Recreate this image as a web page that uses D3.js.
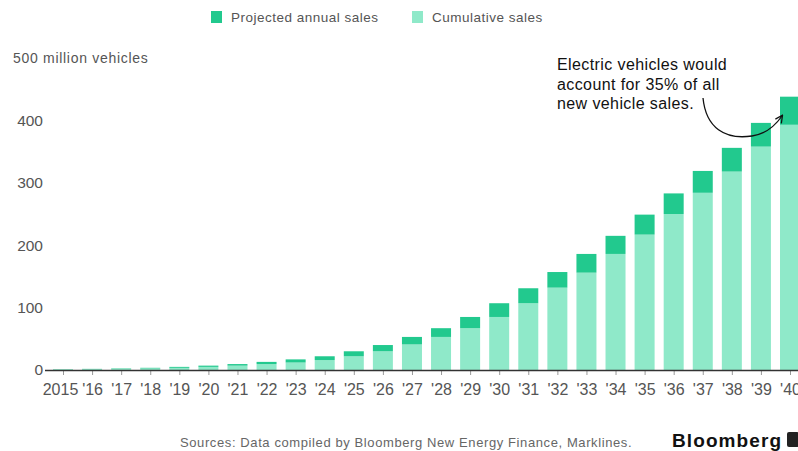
<!DOCTYPE html>
<html>
<head>
<meta charset="utf-8">
<script src="https://cdn.jsdelivr.net/npm/d3@7"></script>
<style>
  body { margin: 0; background: #fff; }
  svg { display: block; font-family: "Liberation Sans", Arial, sans-serif; }
</style>
</head>
<body>
<script>
'use strict';

// years on the x axis
const years = ["2015","'16","'17","'18","'19","'20","'21","'22","'23","'24","'25","'26","'27",
               "'28","'29","'30","'31","'32","'33","'34","'35","'36","'37","'38","'39","'40"];
// cumulative sales (million vehicles), lighter part of each bar
const cumulative = [0.7, 1.2, 1.8, 2.5, 3.5, 5, 7, 9.5, 12, 16, 22, 30, 41,
                    53, 67, 85, 107, 132, 156, 186, 217, 250, 284, 318, 358, 393];
// projected annual sales (million vehicles), darker cap on top
const annual = [0.5, 0.6, 0.7, 1.0, 1.5, 2, 2.5, 3.5, 5, 6, 8, 10, 12,
                14, 18, 22, 24, 25, 30, 29, 32, 33, 35, 38, 38, 45];
const yTicks = [0, 100, 200, 300, 400, 500];

const colors = { annual: "#22c98e", cumulative: "#8fe9c9" };

const width = 798, height = 451;
const svg = d3.select("body").append("svg")
    .attr("width", width)
    .attr("height", height);

let x = d3.scalePoint()
    .domain(years)
    .range([63, 790]);
let barW = 20;

let y = d3.scaleLinear()
    .domain([0, 500])
    .range([370, 58]);

let rows = years.map((yr, i) => ({ year: yr, cum: cumulative[i], ann: annual[i] }));

// y axis labels (no line)
let yAxis = d3.axisLeft(y)
    .tickValues(yTicks)
    .tickSize(0)
    .tickPadding(0)
    .tickFormat(d => d == 500 ? "500 million vehicles" : d);
let yg = svg.append("g")
    .attr("transform", "translate(43,0)")
    .call(yAxis);
yg.select(".domain").remove();
yg.selectAll("text")
    .attr("fill", "#555")
    .attr("font-size", "15.5px")
    .attr("font-family", null);
yg.selectAll(".tick").filter(d => d == 500).select("text")
    .attr("text-anchor", "start")
    .attr("x", -30)
    .attr("font-size", "14px")
    .attr("letter-spacing", "0.7px");

// bars - cumulative part
svg.selectAll(".cum")
    .data(rows)
    .enter()
    .append("rect")
    .attr("class", "cum")
    .attr("x", d => x(d.year) - barW / 2)
    .attr("y", d => y(d.cum))
    .attr("width", barW)
    .attr("height", d => y(0) - y(d.cum))
    .attr("fill", colors.cumulative);

// bars - annual part stacked on top
svg.selectAll(".ann")
    .data(rows)
    .enter()
    .append("rect")
    .attr("class", "ann")
    .attr("x", d => x(d.year) - barW / 2)
    .attr("y", d => y(d.cum + d.ann))
    .attr("width", barW)
    .attr("height", d => y(d.cum) - y(d.cum + d.ann))
    .attr("fill", colors.annual);

// x axis
let xAxis = d3.axisBottom(x)
    .tickSize(5)
    .tickPadding(9);
let xg = svg.append("g")
    .attr("transform", "translate(0,370)")
    .call(xAxis);
xg.select(".domain").remove();
xg.selectAll("line").attr("stroke", "#999");
xg.selectAll("text")
    .attr("fill", "#555")
    .attr("font-size", "16px")
    .attr("font-family", null);
// first label sits a bit left so it does not touch '16
xg.selectAll(".tick").filter(d => d == "2015").select("text").attr("dx", -3);

svg.append("line")
    .attr("x1", 45).attr("x2", 798)
    .attr("y1", 370.5).attr("y2", 370.5)
    .attr("stroke", "#333")
    .attr("stroke-width", 1.5);

// legend
let legend = [
    { label: "Projected annual sales", color: colors.annual, x: 211 },
    { label: "Cumulative sales", color: colors.cumulative, x: 412 }
];
let lg = svg.selectAll(".legend")
    .data(legend)
    .enter()
    .append("g")
    .attr("transform", d => "translate(" + d.x + ",11)");
lg.append("rect")
    .attr("width", 11)
    .attr("height", 12)
    .attr("fill", d => d.color);
lg.append("text")
    .attr("x", 20)
    .attr("y", 11)
    .attr("fill", "#555")
    .attr("font-size", "13.5px")
    .attr("letter-spacing", "0.5px")
    .text(d => d.label);

// annotation
let note = ["Electric vehicles would", "account for 35% of all", "new vehicle sales."];
svg.append("text")
    .attr("x", 557)
    .attr("y", 70)
    .attr("fill", "#111")
    .attr("font-size", "16px")
    .attr("letter-spacing", "0.4px")
    .selectAll("tspan")
    .data(note)
    .enter()
    .append("tspan")
    .attr("x", 557)
    .attr("dy", (d, i) => i == 0 ? 0 : 19.5)
    .text(d => d);

svg.append("defs").append("marker")
    .attr("id", "arrow")
    .attr("viewBox", "0 0 10 10")
    .attr("refX", 8).attr("refY", 5)
    .attr("markerWidth", 7).attr("markerHeight", 7)
    .attr("orient", "auto")
    .append("path")
    .attr("d", "M1,1 L9,5 L1,9")
    .attr("fill", "none")
    .attr("stroke", "#111")
    .attr("stroke-width", 1.4);

svg.append("path")
    .attr("d", "M703,98 C706,128 725,140 752,136 C766,134 775,126 782,116")
    .attr("fill", "none")
    .attr("stroke", "#111")
    .attr("stroke-width", 1.3)
    .attr("marker-end", "url(#arrow)");

// footer
svg.append("text")
    .attr("x", 180)
    .attr("y", 447)
    .attr("fill", "#666")
    .attr("font-size", "13px")
    .attr("letter-spacing", "0.6px")
    .text("Sources: Data compiled by Bloomberg New Energy Finance, Marklines.");

svg.append("text")
    .attr("x", 672)
    .attr("y", 447)
    .attr("fill", "#111")
    .attr("font-size", "19px")
    .attr("font-weight", "bold")
    .attr("letter-spacing", "1.1px")
    .text("Bloomberg");
svg.append("rect")
    .attr("x", 787).attr("y", 432)
    .attr("width", 12).attr("height", 15)
    .attr("rx", 2)
    .attr("fill", "#222");
</script>
</body>
</html>
